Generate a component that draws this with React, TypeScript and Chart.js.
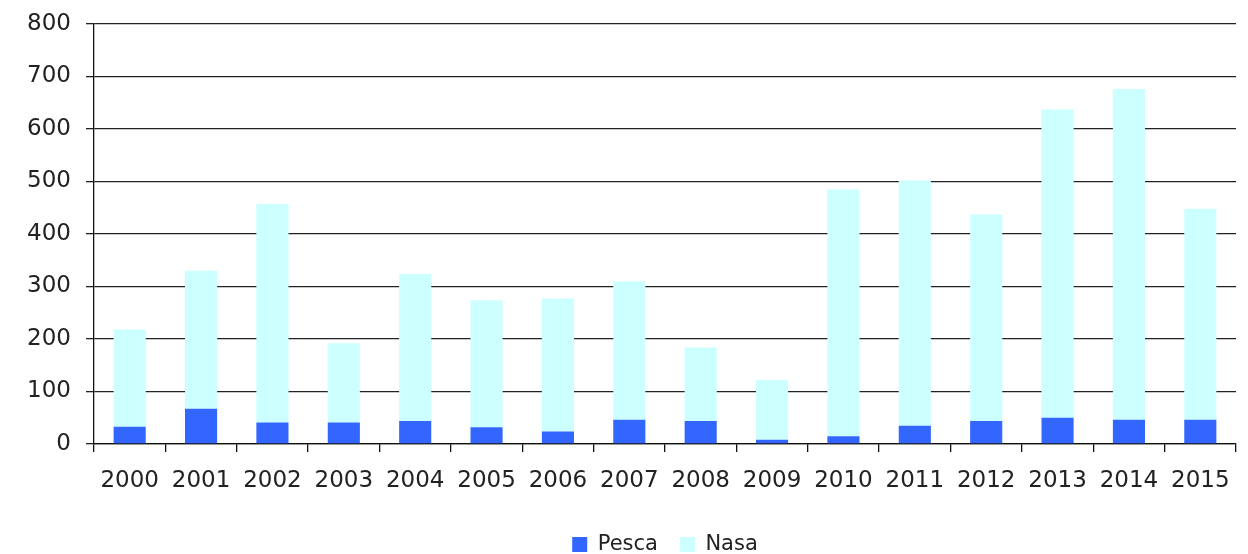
import React, { useEffect, useRef } from "react";
import { Chart, registerables } from "chart.js";

Chart.register(...registerables);

const years = ["2000","2001","2002","2003","2004","2005","2006","2007","2008","2009","2010","2011","2012","2013","2014","2015"];
const pesca = [33, 67, 41, 41, 44, 32, 24, 46, 44, 8, 15, 35, 44, 50, 46, 46];
const nasa = [185, 263, 416, 151, 280, 242, 253, 264, 140, 114, 470, 467, 393, 587, 630, 402];
const yTicks = [0, 100, 200, 300, 400, 500, 600, 700, 800];

const FONT = "'DejaVu Sans', Verdana, sans-serif";

export default function App() {
  const ref = useRef<HTMLCanvasElement | null>(null);
  useEffect(() => {
    document.body.style.margin = "0";
    const ctx = ref.current!;
    const chart = new Chart(ctx, {
      type: "bar",
      data: {
        labels: years,
        datasets: [
          { label: "Pesca", data: pesca, backgroundColor: "#3366FF", borderWidth: 0, barPercentage: 0.45, categoryPercentage: 1 },
          { label: "Nasa", data: nasa, backgroundColor: "#CCFFFF", borderWidth: 0, barPercentage: 0.45, categoryPercentage: 1 },
        ],
      },
      options: {
        animation: false,
        responsive: false,
        maintainAspectRatio: false,
        layout: { padding: { left: 0, right: 12, top: 24, bottom: -11 } },
        plugins: {
          tooltip: { enabled: false },
          legend: {
            position: "bottom",
            fullSize: false,
            labels: {
              font: { family: FONT, size: 21 },
              color: "#222",
              boxWidth: 15,
              boxHeight: 15,
              padding: 22,
            },
          },
        },
        scales: {
          x: {
            stacked: true,
            afterFit: (axis: any) => { axis.height = 68; axis.paddingLeft = 0; axis.paddingRight = 0; },
            grid: { display: true, drawOnChartArea: false, drawTicks: true, tickLength: 8, color: "#111", lineWidth: 1.3, offset: true },
            border: { display: true, color: "#111", width: 1.3 },
            ticks: { font: { family: FONT, size: 23 }, color: "#222", padding: 15, maxRotation: 0, autoSkip: false },
          },
          y: {
            stacked: true,
            min: 0,
            max: 800,
            afterBuildTicks: (axis: any) => { axis.ticks = yTicks.map((v) => ({ value: v })); },
            afterFit: (axis: any) => { axis.width = 94; axis.paddingTop = 0; axis.paddingBottom = 0; },
            grid: { color: "#222", lineWidth: 1.3, tickLength: 8, drawTicks: true },
            border: { display: true, color: "#111", width: 1.3 },
            ticks: { font: { family: FONT, size: 23 }, color: "#222", padding: 15 },
          },
        },
      },
    });
    return () => chart.destroy();
  }, []);
  return (
    <div style={{ width: 1248, height: 554 }}>
      <canvas ref={ref} width={1248} height={554} style={{ display: "block" }} />
    </div>
  );
}
